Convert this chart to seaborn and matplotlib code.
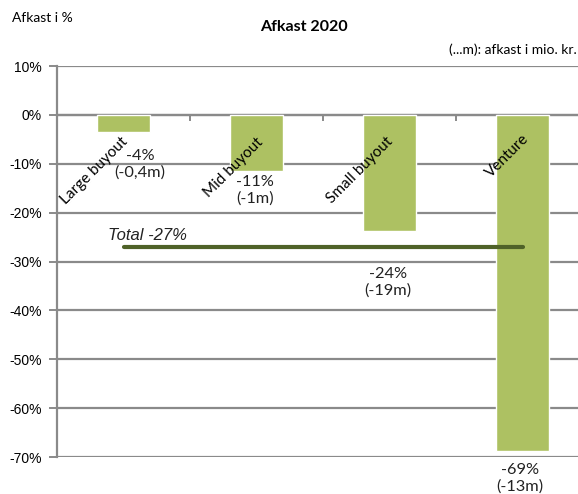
import matplotlib
matplotlib.use("Agg")
import matplotlib.pyplot as plt
import seaborn as sns
import pandas as pd

# ---- data ----
categories = ["Large buyout", "Mid buyout", "Small buyout", "Venture"]
returns_pct = [-3.5, -11.4, -23.7, -68.7]
value_labels = ["-4%\n(-0,4m)", "-11%\n(-1m)", "-24%\n(-19m)", "-69%\n(-13m)"]
total_pct = -27.0
total_label = "Total -27%"
y_ticks = [10, 0, -10, -20, -30, -40, -50, -60, -70]
y_tick_labels = ["10%", "0%", "-10%", "-20%", "-30%", "-40%", "-50%", "-60%", "-70%"]

# ---- layout (pixel offsets of the manually placed labels) ----
cat_label_offsets = [(2, -25), (4, -25), (1, -25), (4, -22)]
val_label_offsets = [(16.5, -32), (-1.5, -20), (-1.5, -52), (-2.5, -27.5)]
total_line_span = (0, 3)

sns.set_theme(style="white")
plt.rcParams["font.family"] = ["Lato", "DejaVu Sans"]

DPI = 100
fig = plt.figure(figsize=(5.78, 4.94), dpi=DPI)
ax = fig.add_axes([57 / 578, 1 - 457 / 494, 1 - 57 / 578, (457 - 66) / 494])

df = pd.DataFrame({"cat": categories, "val": returns_pct})
bar_color = "#ADC162"
sns.barplot(data=df, x="cat", y="val", color=bar_color, width=0.405,
            saturation=1, ax=ax, zorder=3)

grid_color = "#8A8A8A"
ax.set_ylim(-70, 10)
ax.set_xlim(-0.5, -0.5 + (578 - 57) / 133)
ax.set_yticks(y_ticks)
ax.set_yticklabels(y_tick_labels, family=["Liberation Sans", "DejaVu Sans"],
                   fontsize=10, color="black")
for yv in y_ticks:
    ax.axhline(yv, color=grid_color, lw=1.6, zorder=1)

ax.set_xticks([0.5, 1.5, 2.5])
ax.set_xticklabels([])
ax.set_xlabel("")
ax.set_ylabel("")
for s in ["top", "right"]:
    ax.spines[s].set_visible(False)
ax.spines["left"].set_color(grid_color)
ax.spines["left"].set_linewidth(1.6)
ax.spines["bottom"].set_position(("data", 0))
ax.spines["bottom"].set_color(grid_color)
ax.spines["bottom"].set_linewidth(1.6)
ax.tick_params(axis="y", which="both", length=6, width=1.4, color=grid_color,
               pad=5, left=True, direction="out")
ax.tick_params(axis="x", length=4, width=1.4, color=grid_color,
               bottom=True, direction="out")

px = 72 / DPI
# category labels (rotated)
for i, (cat, off) in enumerate(zip(categories, cat_label_offsets)):
    ax.annotate(cat, xy=(i, 0), xytext=(off[0] * px, off[1] * px),
                textcoords="offset points", rotation=45,
                rotation_mode="anchor", ha="right", va="center",
                fontsize=11, color="black", annotation_clip=False, zorder=5)

# value labels
for i, (val, lab, off) in enumerate(zip(returns_pct, value_labels, val_label_offsets)):
    ax.annotate(lab, xy=(i, val), xytext=(off[0] * px, off[1] * px),
                textcoords="offset points", ha="center", va="center",
                fontsize=11.8, color="#222222", linespacing=1.2,
                annotation_clip=False, zorder=5)

# total line
ax.plot(list(total_line_span), [total_pct, total_pct], color="#4F6228",
        lw=3.0, solid_capstyle="round", zorder=4)
ax.annotate(total_label, xy=(total_line_span[0], total_pct),
            xytext=(-16 * px, 11 * px), textcoords="offset points",
            ha="left", va="center", fontsize=12, style="italic",
            family=["Liberation Sans", "DejaVu Sans"], color="#222222",
            annotation_clip=False, zorder=5)

# titles
fig.text(304 / 578, 1 - 27 / 494, "Afkast 2020", ha="center", va="center",
         fontsize=11.5, fontweight="bold", color="black")
fig.text(12 / 578, 1 - 18 / 494, "Afkast i %", ha="left", va="center",
         fontsize=10, color="black")
fig.text(577 / 578, 1 - 50 / 494, "(...m): afkast i mio. kr.", ha="right",
         va="center", fontsize=10, color="black")

fig.savefig("out.png", dpi=DPI)
